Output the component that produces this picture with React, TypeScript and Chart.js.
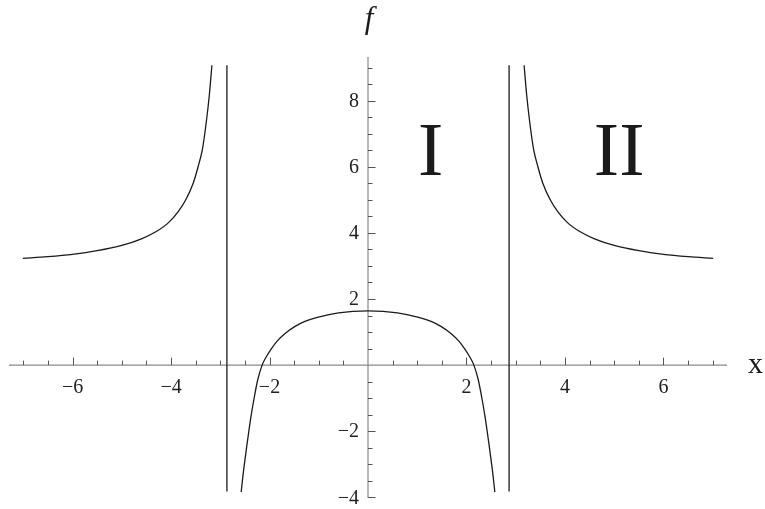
import React, { useEffect, useRef } from "react";
import { Chart, registerables } from "chart.js";

Chart.register(...registerables);

// ---- data ----
const leftOuterX = [-7.01, -6.5, -6.0, -5.5, -5.0, -4.6, -4.3, -4.05, -3.85, -3.7, -3.55, -3.45, -3.36, -3.28, -3.22, -3.17];
const leftOuterF = [3.23, 3.28, 3.35, 3.46, 3.62, 3.82, 4.04, 4.31, 4.65, 5.0, 5.5, 6.0, 6.55, 7.4, 8.2, 9.07];

const innerX = [-2.575, -2.54, -2.5, -2.46, -2.42, -2.37, -2.31, -2.24, -2.15, -2.05, -1.96, -1.85, -1.69, -1.48, -1.28, -1.01, -0.6, 0, 0.6, 1.01, 1.28, 1.48, 1.69, 1.85, 1.96, 2.05, 2.15, 2.24, 2.31, 2.37, 2.42, 2.46, 2.5, 2.54, 2.575];
const innerF = [-3.84, -3.35, -2.88, -2.43, -2.0, -1.5, -0.98, -0.45, 0.0, 0.29, 0.5, 0.72, 0.95, 1.17, 1.32, 1.45, 1.58, 1.64, 1.58, 1.45, 1.32, 1.17, 0.95, 0.72, 0.5, 0.29, 0.0, -0.45, -0.98, -1.5, -2.0, -2.43, -2.88, -3.35, -3.84];

const rightOuterX = [3.17, 3.22, 3.28, 3.36, 3.45, 3.55, 3.7, 3.85, 4.05, 4.3, 4.6, 5.0, 5.5, 6.0, 6.5, 7.01];
const rightOuterF = [9.07, 8.2, 7.4, 6.55, 6.0, 5.5, 5.0, 4.65, 4.31, 4.04, 3.82, 3.62, 3.46, 3.35, 3.28, 3.23];

const asymptoteX = [-2.865, 2.865];
const asymptoteF = [-3.82, 9.07];

const xMajorTicks = [-6, -4, -2, 2, 4, 6];
const xMinorTicks = [-7, -6.5, -5.5, -5, -4.5, -3.5, -3, -2.5, -1.5, -1, -0.5, 0.5, 1, 1.5, 2.5, 3, 3.5, 4.5, 5, 5.5, 6.5, 7];
const yMajorTicks = [-4, -2, 2, 4, 6, 8];
const yMinorTicks = [-3.5, -3, -2.5, -1.5, -1, -0.5, 0.5, 1, 1.5, 2.5, 3, 3.5, 4.5, 5, 5.5, 6.5, 7, 7.5, 8.5, 9];

const regionLabels = ["I", "II"];
const regionX = [1.27, 5.1];
const regionY = [6.5, 6.5];

const xRange = [-7.29, 7.29];
const yRange = [-4.02, 9.32];

function fmt(v: number): string {
  return v < 0 ? "\u2212" + Math.abs(v) : String(v);
}

function pts(xs: number[], ys: number[]) {
  return xs.map((x, i) => ({ x, y: ys[i] }));
}

const axesPlugin = {
  id: "mathAxes",
  beforeDatasetsDraw(chart: any) {
    const { ctx, chartArea, scales } = chart;
    const xs = scales.x;
    const ys = scales.y;
    const x0 = xs.getPixelForValue(0);
    const y0 = ys.getPixelForValue(0);
    ctx.save();
    ctx.strokeStyle = "#8a8a8a";
    ctx.lineWidth = 1.2;
    ctx.beginPath();
    ctx.moveTo(chartArea.left, y0);
    ctx.lineTo(chartArea.right, y0);
    ctx.moveTo(x0, chartArea.top);
    ctx.lineTo(x0, chartArea.bottom);
    ctx.stroke();

    ctx.strokeStyle = "#555";
    ctx.lineWidth = 1;
    ctx.beginPath();
    for (const t of xMajorTicks) {
      const p = Math.round(xs.getPixelForValue(t)) + 0.5;
      ctx.moveTo(p, y0);
      ctx.lineTo(p, y0 - 7.5);
    }
    for (const t of xMinorTicks) {
      const p = Math.round(xs.getPixelForValue(t)) + 0.5;
      ctx.moveTo(p, y0);
      ctx.lineTo(p, y0 - 4.5);
    }
    for (const t of yMajorTicks) {
      const p = Math.round(ys.getPixelForValue(t)) + 0.5;
      ctx.moveTo(x0, p);
      ctx.lineTo(x0 + 7.5, p);
    }
    for (const t of yMinorTicks) {
      const p = Math.round(ys.getPixelForValue(t)) + 0.5;
      ctx.moveTo(x0, p);
      ctx.lineTo(x0 + 4.5, p);
    }
    ctx.stroke();

    ctx.fillStyle = "#222";
    ctx.font = '20px "Liberation Serif", "Times New Roman", serif';
    ctx.textAlign = "center";
    ctx.textBaseline = "middle";
    for (const t of xMajorTicks) {
      ctx.fillText(fmt(t), xs.getPixelForValue(t), y0 + 23);
    }
    ctx.textAlign = "right";
    for (const t of yMajorTicks) {
      ctx.fillText(fmt(t), x0 - 9, ys.getPixelForValue(t) + 1);
    }
    ctx.restore();
  },
  afterDraw(chart: any) {
    const { ctx, scales } = chart;
    const xs = scales.x;
    const ys = scales.y;
    const x0 = xs.getPixelForValue(0);
    const y0 = ys.getPixelForValue(0);
    ctx.save();
    ctx.fillStyle = "#1a1a1a";
    ctx.textAlign = "center";
    ctx.textBaseline = "alphabetic";
    ctx.font = '76px "Liberation Serif", "Times New Roman", serif';
    regionLabels.forEach((s, i) => {
      ctx.fillText(s, xs.getPixelForValue(regionX[i]), ys.getPixelForValue(regionY[i]) + 25);
    });
    ctx.font = '30px "Liberation Serif", "Times New Roman", serif';
    ctx.textAlign = "left";
    ctx.fillText("x", 748, y0 + 7.5);
    ctx.font = 'italic 31px "Liberation Serif", "Times New Roman", serif';
    ctx.textAlign = "center";
    ctx.fillText("f", x0 + 1, 28);
    ctx.restore();
  },
};

export default function App() {
  const ref = useRef<HTMLCanvasElement | null>(null);
  useEffect(() => {
    if (!ref.current) return;
    const curve = { borderColor: "#1a1a1a", borderWidth: 1.3, pointRadius: 0, showLine: true, fill: false, cubicInterpolationMode: "monotone" as const };
    const chart = new Chart(ref.current, {
      type: "scatter",
      data: {
        datasets: [
          { ...curve, data: pts(leftOuterX, leftOuterF) },
          { ...curve, data: pts(innerX, innerF) },
          { ...curve, data: pts(rightOuterX, rightOuterF) },
          { borderColor: "#2a2a2a", borderWidth: 1.4, pointRadius: 0, showLine: true, data: [{ x: asymptoteX[0], y: asymptoteF[0] }, { x: asymptoteX[0], y: asymptoteF[1] }] },
          { borderColor: "#2a2a2a", borderWidth: 1.4, pointRadius: 0, showLine: true, data: [{ x: asymptoteX[1], y: asymptoteF[0] }, { x: asymptoteX[1], y: asymptoteF[1] }] },
        ],
      },
      options: {
        animation: false,
        responsive: false,
        devicePixelRatio: 1,
        layout: { padding: { left: 9, right: 38, top: 57, bottom: 11 } },
        plugins: { legend: { display: false }, tooltip: { enabled: false } },
        scales: {
          x: { type: "linear", min: xRange[0], max: xRange[1], display: false },
          y: { type: "linear", min: yRange[0], max: yRange[1], display: false },
        },
      },
      plugins: [axesPlugin],
    });
    return () => chart.destroy();
  }, []);
  return (
    <div style={{ position: "fixed", left: 0, top: 0, width: 765, height: 509, background: "#fff" }}>
      <canvas ref={ref} width={765} height={509} />
    </div>
  );
}
